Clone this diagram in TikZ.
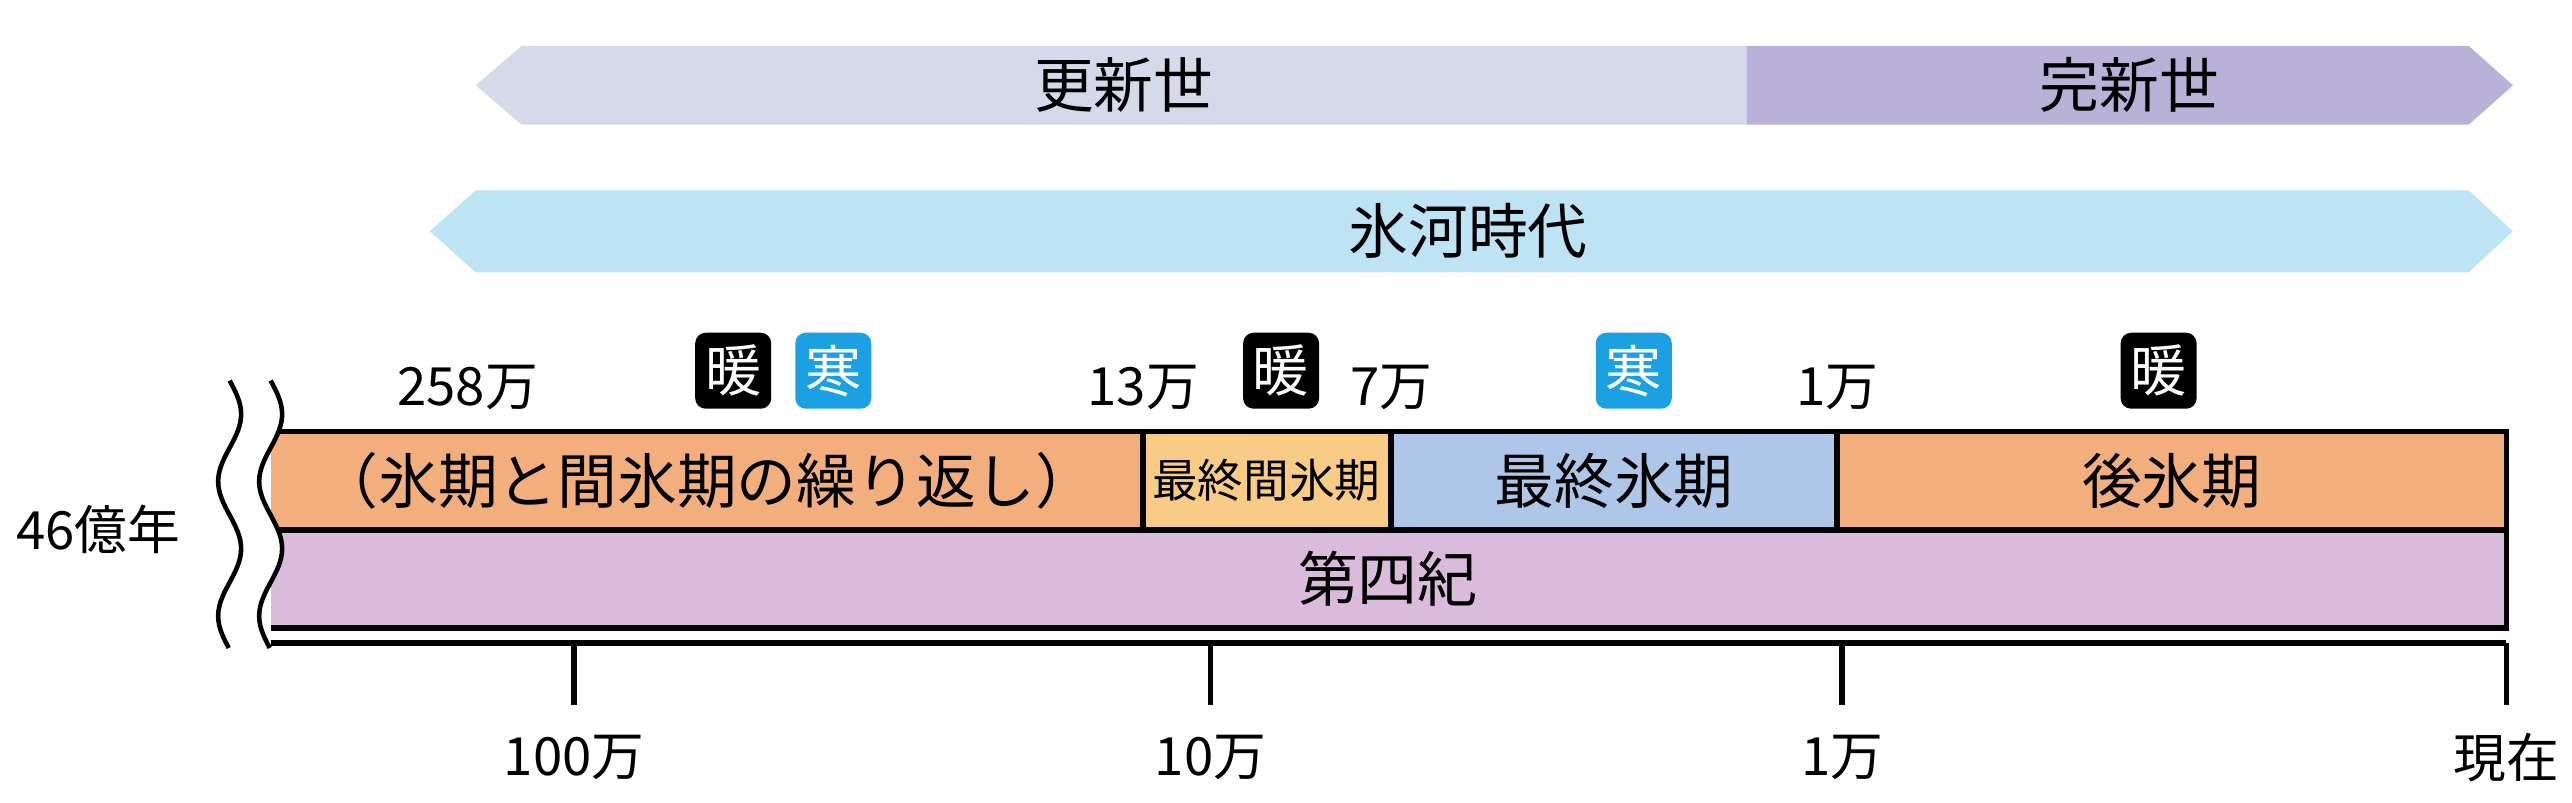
\documentclass[tikz,border=0pt]{standalone}
\usepackage{fontspec}
\setmainfont{Noto Sans CJK JP}
\begin{document}
\begin{tikzpicture}[x=0.016403cm,y=-0.016403cm,
 lab/.style={font=\fontsize{15}{15}\selectfont},
 big/.style={font=\fontsize{17}{17}\selectfont},
 tag/.style={fill=#1,text=white,rounded corners=3pt,inner sep=0pt,minimum size=0.76cm,font=\fontsize{16}{16}\selectfont},
 seg/.style={draw=black,line width=1.6pt},
 tick/.style={line width=1.6pt}]
\useasboundingbox (0,0) rectangle (1568,489);
\definecolor{pl}{HTML}{D5DAEB}\definecolor{pd}{HTML}{B9B1D8}
\definecolor{sky}{HTML}{BDE3F5}\definecolor{org}{HTML}{F2AE7D}
\definecolor{lorg}{HTML}{F8CB86}\definecolor{blu}{HTML}{AEC6E8}
\definecolor{pnk}{HTML}{DBBBDB}\definecolor{tb}{HTML}{1BA1E2}
% top arrow
\fill[pl] (290,52)--(318,28)--(1065,28)--(1065,76)--(318,76)--cycle;
\fill[pd] (1065,28)--(1505,28)--(1532,52)--(1505,76)--(1065,76)--cycle;
\node[big] (kou) at (685,52) {更新世};
\node[big] (kan) at (1298,52) {完新世};
% ice age arrow
\fill[sky] (262,141)--(290,116)--(1505,116)--(1532,141)--(1505,166)--(290,166)--cycle;
\node[big] (hyo) at (895,141) {氷河時代};
% labels
\node[lab] (l258) at (285,236) {258万};
\node[tag=black] (w1) at (447,226) {暖};
\node[tag=tb] (c1) at (508,226) {寒};
\node[lab] (l13) at (697,236) {13万};
\node[tag=black] (w2) at (781,226) {暖};
\node[lab] (l7) at (848,236) {7万};
\node[tag=tb] (c2) at (996,226) {寒};
\node[lab] (l1) at (1120,236) {1万};
\node[tag=black] (w3) at (1316,226) {暖};
% bar
\fill[org] (165,263) rectangle (697,323);
\fill[lorg] (697,263) rectangle (848,323);
\fill[blu] (848,263) rectangle (1120,323);
\fill[org] (1120,263) rectangle (1528,323);
\fill[pnk] (165,323) rectangle (1528,383);
\draw[seg] (165,263)--(1528,263)--(1528,383)--(165,383);
\draw[seg] (165,323)--(1528,323);
\draw[seg] (697,263)--(697,323) (848,263)--(848,323) (1120,263)--(1120,323);
\node[big] (s1) at (431,293) {（氷期と間氷期の繰り返し）};
\node[font=\fontsize{13}{13}\selectfont] (s2) at (772,293) {最終間氷期};
\node[big] (s3) at (984,293) {最終氷期};
\node[big] (s4) at (1324,293) {後氷期};
\node[big] (s5) at (846,353) {第四紀};
% wavy edges
\fill[white] plot[domain=232:395,samples=60,variable=\t] ({140+7*sin(4.39*(\t-232))},\t) -- plot[domain=395:232,samples=60,variable=\t] ({165+7*sin(4.39*(\t-232))},\t) -- cycle;
\draw[line width=1.3pt] plot[domain=232:395,samples=60,variable=\t] ({140+7*sin(4.39*(\t-232))},\t);
\draw[line width=1.3pt] plot[domain=232:395,samples=60,variable=\t] ({165+7*sin(4.39*(\t-232))},\t);
\node[lab] (age) at (60,323) {46億年};
% axis
\draw[tick] (165,392)--(1528,392);
\draw[tick] (350,392)--(350,430) (738,392)--(738,430) (1123,392)--(1123,430) (1528,392)--(1528,430);
\node[lab] (a1) at (350,462) {100万};
\node[lab] (a2) at (738,462) {10万};
\node[lab] (a3) at (1123,462) {1万};
\node[lab] (a4) at (1528,462) {現在};
\end{tikzpicture}
\end{document}
